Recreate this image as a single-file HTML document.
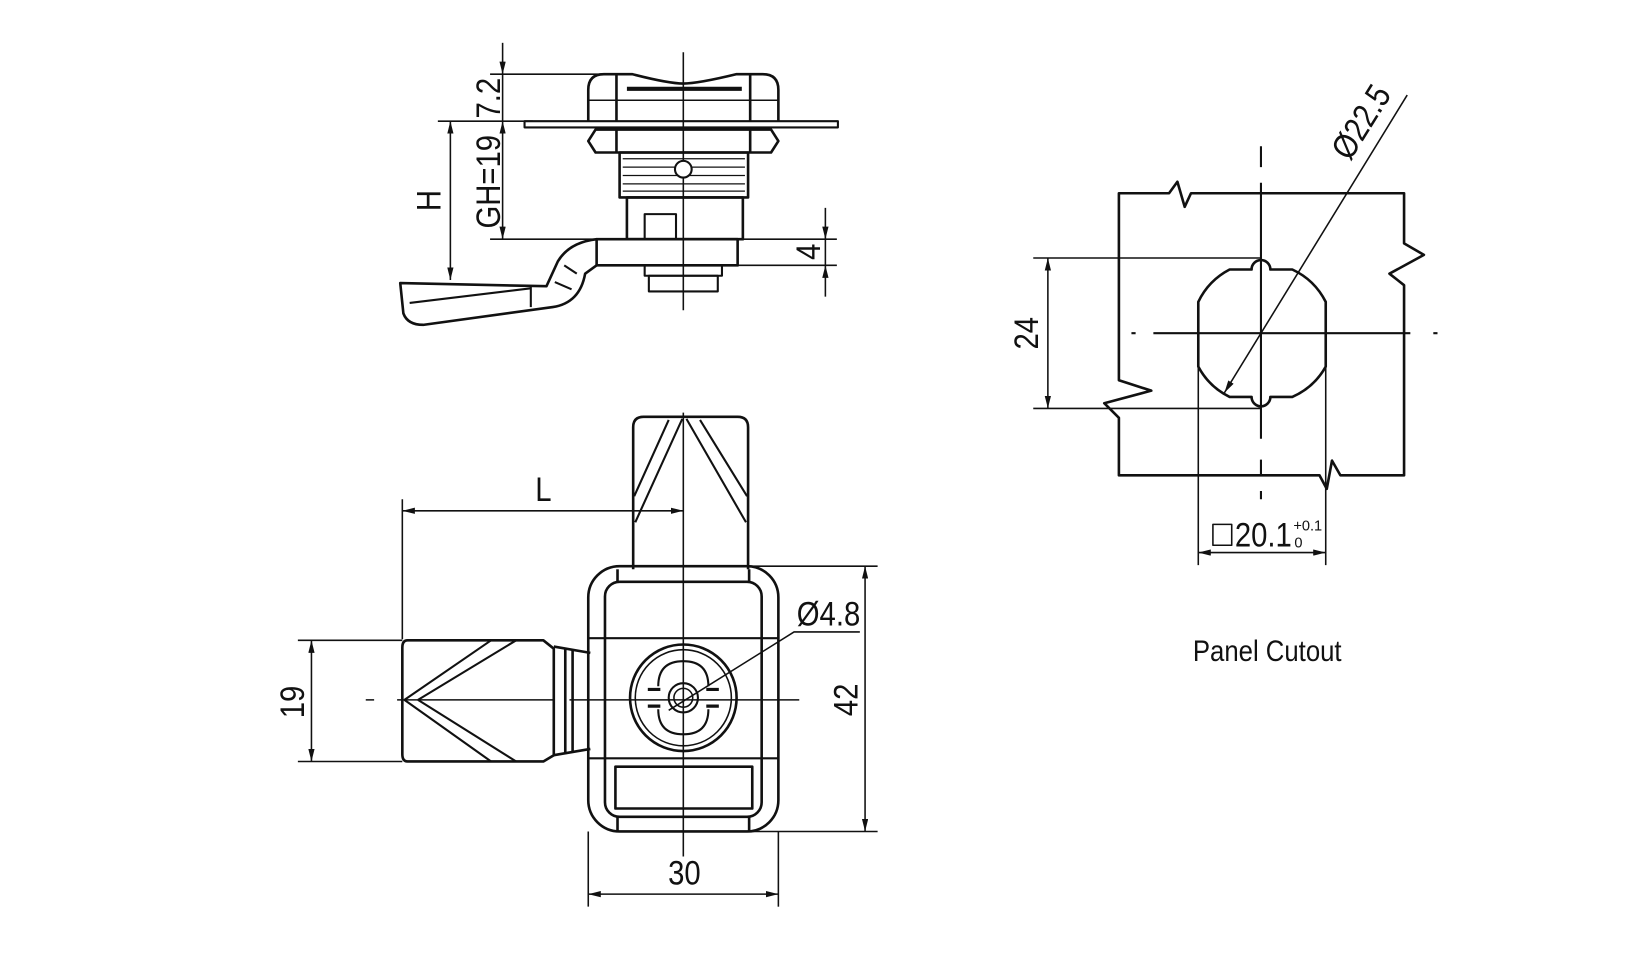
<!DOCTYPE html>
<html><head><meta charset="utf-8"><style>
html,body{margin:0;padding:0;background:#fff;}
svg{display:block;}
text{font-family:"Liberation Sans",sans-serif;fill:#111;}
</style></head><body>
<svg width="1633" height="961" viewBox="0 0 1563 920" xmlns="http://www.w3.org/2000/svg">
<defs>
<marker id="a" viewBox="0 0 12 6" refX="12" refY="3" markerWidth="12" markerHeight="6" orient="auto-start-reverse" markerUnits="userSpaceOnUse">
<path d="M0,0 L12,3 L0,6 z" fill="#111"/>
</marker>
</defs>
<g fill="none" stroke="#111" stroke-linejoin="round">

<!-- ===== TOP SIDE VIEW ===== -->
<g stroke-width="1.5">
<line x1="481" y1="41" x2="481" y2="71" marker-end="url(#a)"/>
<line x1="481" y1="71" x2="481" y2="116"/>
<line x1="469" y1="71" x2="577" y2="71"/>
<line x1="419" y1="116" x2="510" y2="116"/>
<line x1="481" y1="116" x2="481" y2="229" marker-start="url(#a)" marker-end="url(#a)"/>
<line x1="431" y1="116" x2="431" y2="268" marker-start="url(#a)" marker-end="url(#a)"/>
<line x1="469" y1="229" x2="801" y2="229"/>
<line x1="706" y1="254" x2="801" y2="254"/>
<line x1="790" y1="199" x2="790" y2="229" marker-end="url(#a)"/>
<line x1="790" y1="254" x2="790" y2="284" marker-start="url(#a)"/>
<line x1="790" y1="229" x2="790" y2="254"/>
<line x1="654" y1="50" x2="654" y2="297"/>
</g>
<g stroke-width="2.5">
<path d="M563,116 L563,86 Q563,71 578,71 L605,71 Q640,80 654,80 Q668,80 705,71 L730,71 Q745,71 745,86 L745,116"/>
<line x1="590" y1="71" x2="590" y2="116"/><line x1="718" y1="71" x2="718" y2="116"/>
<line x1="600" y1="85" x2="710" y2="85" stroke-width="4"/>
<line x1="563" y1="96" x2="745" y2="96" stroke-width="1.5"/>
<rect x="502" y="116" width="300" height="6" stroke-width="2"/>
<path d="M570,124 L738,124 L745,135 L738,146 L570,146 L563,135 Z"/>
<line x1="590" y1="124" x2="590" y2="146"/><line x1="718" y1="124" x2="718" y2="146"/>
<rect x="593" y="146" width="123" height="43"/>
<rect x="600" y="189" width="111" height="40"/>
<rect x="571" y="229" width="135" height="25"/>
<rect x="617" y="205" width="30" height="24" stroke-width="2"/>
<rect x="617" y="254" width="74" height="10" stroke-width="2"/>
<rect x="621" y="264" width="66" height="15" stroke-width="2"/>
<path d="M571,229 Q545,232 534,250 L523,274 L383,271 L386,300 Q390,311 405,311 L529,294 Q555,290 560,262 L571,254"/>
<line x1="392" y1="290" x2="508" y2="276" stroke-width="2"/>
<line x1="508" y1="274" x2="508" y2="294" stroke-width="2"/>
<line x1="540" y1="254" x2="552" y2="262" stroke-width="2"/>
<line x1="531" y1="270" x2="547" y2="277" stroke-width="2"/>
</g>
<g stroke-width="1.2">
<line x1="596" y1="152" x2="713" y2="152"/><line x1="596" y1="160" x2="713" y2="160"/>
<line x1="596" y1="168" x2="713" y2="168"/><line x1="596" y1="176" x2="713" y2="176"/>
<line x1="596" y1="183" x2="713" y2="183"/>
</g>
<circle cx="654" cy="162" r="8" fill="#fff" stroke-width="2"/>

<!-- ===== BOTTOM FRONT VIEW ===== -->
<g stroke-width="2.5">
<path d="M606,545 L606,409 Q606,399 616,399 L706,399 Q716,399 716,409 L716,545"/>
<path d="M653,401 L608,500 M640,402 L607,475 M657,401 L714,500 M670,402 L715,475" stroke-width="2"/>
<rect x="563" y="542" width="182" height="254" rx="30"/>
<rect x="579" y="557" width="150" height="225" rx="14"/>
<line x1="591" y1="545" x2="591" y2="557"/><line x1="717" y1="545" x2="717" y2="557"/>
<line x1="591" y1="782" x2="591" y2="796"/><line x1="717" y1="782" x2="717" y2="796"/>
<rect x="589" y="734" width="131" height="40"/>
<line x1="563" y1="611" x2="745" y2="611" stroke-width="2"/>
<line x1="563" y1="726" x2="745" y2="726" stroke-width="2"/>
<circle cx="654" cy="668" r="51"/>
<circle cx="654" cy="668" r="46" stroke-width="1.5"/>
<path d="M630,657 Q630,633 654,633 Q678,633 678,657 M630,679 Q630,703 654,703 Q678,703 678,679" stroke-width="2"/>
<path d="M620,660 L632,660 M620,676 L632,676 M676,660 L688,660 M676,676 L688,676" stroke-width="3"/>
<circle cx="654" cy="668" r="14" stroke-width="2"/>
<circle cx="654" cy="668" r="9" stroke-width="1.5"/>
<path d="M390,613 L520,613 L530,621 L530,723 L520,729 L390,729 Q385,729 385,722 L385,620 Q385,613 390,613 Z"/>
<path d="M387,670 L470,613 M400,670 L494,613 M387,670 L470,729 M400,670 L494,729" stroke-width="2"/>
<line x1="530" y1="619" x2="565" y2="625"/><line x1="530" y1="723" x2="565" y2="717"/>
<line x1="541" y1="620" x2="541" y2="722"/><line x1="548" y1="622" x2="548" y2="720"/>
</g>
<g stroke-width="1.5">
<line x1="654" y1="395" x2="654" y2="820"/>
<path d="M350,670 L358,670 M380,670 L530,670 M545,670 L765,670" />
<line x1="385" y1="478" x2="385" y2="612"/>
<line x1="385" y1="489" x2="654" y2="489" marker-start="url(#a)" marker-end="url(#a)"/>
<line x1="285" y1="613" x2="385" y2="613"/>
<line x1="285" y1="729" x2="385" y2="729"/>
<line x1="298" y1="613" x2="298" y2="729" marker-start="url(#a)" marker-end="url(#a)"/>
<line x1="716" y1="542" x2="840" y2="542"/>
<line x1="716" y1="796" x2="840" y2="796"/>
<line x1="828" y1="542" x2="828" y2="796" marker-start="url(#a)" marker-end="url(#a)"/>
<line x1="563" y1="796" x2="563" y2="868"/>
<line x1="745" y1="796" x2="745" y2="868"/>
<line x1="563" y1="856" x2="745" y2="856" marker-start="url(#a)" marker-end="url(#a)"/>
<path d="M823,605 L760,605 L640,680"/>
</g>

<!-- ===== PANEL CUTOUT ===== -->
<g stroke-width="2.5">
<path d="M1071,185 L1119,185 L1127,174 L1134,198 L1140,185 L1344,185 L1344,233 L1363,244 L1330,262 L1344,273 L1344,455 L1283,455 L1275,441 L1270,468 L1263,455 L1071,455 L1071,400 L1057,386 L1102,374 L1071,364 Z"/>
<path d="M1177,258 L1198,258 A9,9 0 0 1 1216,258 L1237,258 A68,68 0 0 1 1269,289 L1269,351 A68,68 0 0 1 1237,380 L1216,380 A9,9 0 0 1 1198,380 L1177,380 A68,68 0 0 1 1147,351 L1147,289 A68,68 0 0 1 1177,258 Z"/>
</g>
<g stroke-width="1.5">
<path d="M1207,140 L1207,160 M1207,175 L1207,420 M1207,440 L1207,455 M1207,470 L1207,478" stroke-width="2"/>
<path d="M1083,319 L1087,319 M1104,319 L1350,319 M1372,319 L1376,319" stroke-width="2"/>
<line x1="989" y1="247" x2="1207" y2="247"/>
<line x1="989" y1="391" x2="1207" y2="391"/>
<line x1="1003" y1="247" x2="1003" y2="391" marker-start="url(#a)" marker-end="url(#a)"/>
<line x1="1147" y1="351" x2="1147" y2="541"/>
<line x1="1269" y1="351" x2="1269" y2="541"/>
<line x1="1147" y1="529" x2="1269" y2="529" marker-start="url(#a)" marker-end="url(#a)"/>
<line x1="1347" y1="91" x2="1172" y2="376" marker-end="url(#a)"/>
</g>
<rect x="1161" y="502" width="18" height="20" stroke-width="1.5"/>
</g>

<!-- Texts -->
<g font-size="33">
<text transform="translate(470,94) rotate(-90) scale(0.85,1)" text-anchor="middle" dominant-baseline="middle">7.2</text>
<text transform="translate(470,174) rotate(-90) scale(0.85,1)" text-anchor="middle" dominant-baseline="middle">GH=19</text>
<text transform="translate(413,192) rotate(-90) scale(0.85,1)" text-anchor="middle" dominant-baseline="middle">H</text>
<text transform="translate(776,241) rotate(-90) scale(0.85,1)" text-anchor="middle" dominant-baseline="middle">4</text>
<text transform="translate(520,471) scale(0.85,1)" text-anchor="middle" dominant-baseline="middle">L</text>
<text transform="translate(282,672) rotate(-90) scale(0.85,1)" text-anchor="middle" dominant-baseline="middle">19</text>
<text transform="translate(812,670) rotate(-90) scale(0.85,1)" text-anchor="middle" dominant-baseline="middle">42</text>
<text transform="translate(655,838) scale(0.85,1)" text-anchor="middle" dominant-baseline="middle">30</text>
<text transform="translate(793,590) scale(0.85,1)" text-anchor="middle" dominant-baseline="middle">Ø4.8</text>
<text transform="translate(985,319) rotate(-90) scale(0.85,1)" text-anchor="middle" dominant-baseline="middle">24</text>
<text transform="translate(1305,118) rotate(-58) scale(0.85,1)" text-anchor="middle" dominant-baseline="middle">Ø22.5</text>
<text transform="translate(1182,523) scale(0.85,1)">20.1</text>
</g>
<text x="1238" y="508" font-size="14">+0.1</text>
<text x="1239" y="524" font-size="14">0</text>
<text transform="translate(1213,633) scale(0.88,1)" font-size="28" text-anchor="middle">Panel Cutout</text>
</svg>
</body></html>
